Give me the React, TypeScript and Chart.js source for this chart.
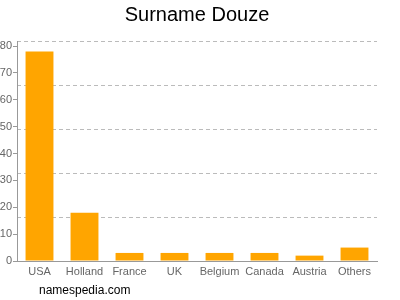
import React, { useEffect, useRef } from "react";
import { Chart, registerables } from "chart.js";

Chart.register(...registerables);

const categories = ["USA", "Holland", "France", "UK", "Belgium", "Canada", "Austria", "Others"];
const counts = [78, 18, 3, 3, 3, 3, 2, 5];
const yTickValues = [0, 10, 20, 30, 40, 50, 60, 70, 80];
const yMax = 81.9;
const gridLineCount = 5;
const titleText = "Surname Douze";
const footerText = "namespedia.com";

const FONT = "'Liberation Sans', Arial, Helvetica, sans-serif";

const textPlugin = {
  id: "texts",
  afterDraw(chart: any) {
    const ctx = chart.ctx;
    const area = chart.chartArea;
    ctx.save();
    ctx.fillStyle = "#000";
    ctx.font = `20px ${FONT}`;
    ctx.textAlign = "center";
    ctx.textBaseline = "middle";
    ctx.fillText(titleText, (area.left + area.right) / 2, 15);
    ctx.font = `12px ${FONT}`;
    ctx.textAlign = "left";
    ctx.fillText(footerText, 39, 291);
    ctx.restore();
  },
};

export default function App() {
  const ref = useRef<HTMLCanvasElement>(null);
  useEffect(() => {
    if (!ref.current) return;
    const chart = new Chart(ref.current, {
      type: "bar",
      data: {
        labels: categories,
        datasets: [
          {
            data: counts,
            backgroundColor: "#FFA500",
            borderWidth: 0,
            categoryPercentage: 1,
            barPercentage: 0.62,
          },
        ],
      },
      options: {
        animation: false,
        responsive: false,
        maintainAspectRatio: false,
        layout: { padding: { left: 0, right: 23, top: 41, bottom: 0 } },
        plugins: { legend: { display: false }, title: { display: false }, tooltip: { enabled: false } },
        scales: {
          x: {
            grid: { display: false, drawTicks: false },
            border: { display: true, color: "#999", width: 1 },
            ticks: { color: "#666", font: { family: FONT, size: 11 }, padding: 4, maxRotation: 0, autoSkip: false },
            afterFit(scale: any) {
              scale.height = 39;
            },
          },
          y: {
            min: 0,
            max: yMax,
            position: "left",
            grid: { display: true, drawOnChartArea: false, drawTicks: true, tickLength: 4, color: "#999" },
            border: { display: true, color: "#999", width: 1 },
            ticks: { color: "#666", font: { family: FONT, size: 11 }, padding: 1 },
            afterBuildTicks(scale: any) {
              scale.ticks = yTickValues.map((v) => ({ value: v }));
            },
            afterFit(scale: any) {
              scale.width = 17;
            },
          },
          yg: {
            min: 0,
            max: yMax,
            position: "right",
            grid: { display: true, color: "#bbb", drawTicks: false },
            border: { display: false, dash: [4, 3] },
            ticks: { display: false },
            afterBuildTicks(scale: any) {
              const ticks = [];
              for (let i = 1; i <= gridLineCount; i++) ticks.push({ value: (yMax * i) / gridLineCount });
              scale.ticks = ticks;
            },
            afterFit(scale: any) {
              scale.width = 0;
            },
          },
        },
      },
      plugins: [textPlugin],
    });
    return () => chart.destroy();
  }, []);
  return (
    <div style={{ position: "absolute", left: 0, top: 0, width: 400, height: 300, background: "#fff" }}>
      <canvas ref={ref} width={400} height={300} style={{ width: 400, height: 300 }} />
    </div>
  );
}
